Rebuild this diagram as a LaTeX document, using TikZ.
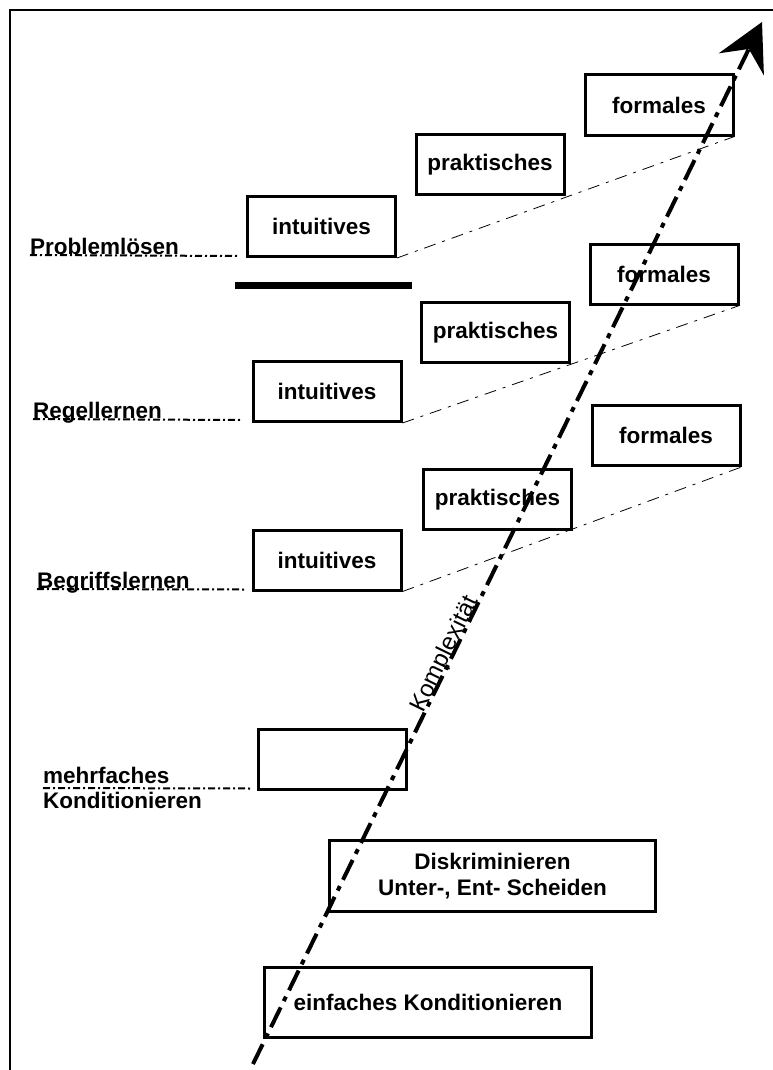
\documentclass[tikz,border=0pt]{standalone}
\usepackage{fontspec}
\setmainfont{Liberation Sans}
\usetikzlibrary{arrows.meta}
\begin{document}
\begin{tikzpicture}[x=1pt,y=-1pt,
  box/.style={draw, line width=3pt, inner sep=0pt, align=center,
    font=\fontsize{22.5}{26}\selectfont\bfseries},
  smallbox/.style={box, minimum width=148pt, minimum height=60pt},
  lbl/.style={inner sep=0pt, anchor=base west, font=\fontsize{22.5}{26}\selectfont\bfseries},
  lblline/.style={line width=2pt, dash pattern=on 7pt off 3pt on 2pt off 3pt},
  thinlink/.style={line width=0.8pt, dash pattern=on 12pt off 7pt on 3pt off 7pt},
  mainarrow/.style={line width=4pt, dash pattern=on 22pt off 7pt on 5pt off 7pt,
    -{Stealth[length=47pt,width=50pt,inset=17pt]}},
  frameline/.style={line width=1.5pt}
]
\useasboundingbox (0,0) rectangle (773,1070);
% frame
\coordinate (fa) at (10,1070);
\coordinate (fb) at (10,10);
\coordinate (fc) at (773,10);
\draw[frameline] (fa) -- (fb) -- (fc);

% boxes
\node[smallbox] (f1) at (659,105) {formales};
\node[smallbox] (p1) at (490,164.5) {praktisches};
\node[smallbox] (i1) at (321.5,226.5) {intuitives};
\node[smallbox] (f2) at (664,274) {formales};
\node[smallbox] (p2) at (495.5,332.5) {praktisches};
\node[smallbox] (i2) at (327,391.5) {intuitives};
\node[smallbox] (f3) at (666,435.5) {formales};
\node[smallbox] (p3) at (497.5,499.5) {praktisches};
\node[smallbox] (i3) at (327,560) {intuitives};
\node[smallbox] (e1) at (332,759) {};
\node[box, minimum width=326pt, minimum height=71pt] (d1) at (492.5,876)
  {Diskriminieren\\Unter-, Ent- Scheiden};
\node[box, minimum width=327pt, minimum height=70pt] (k1) at (428,1002.5)
  {einfaches Konditionieren};

% black bar
\fill (235,282) rectangle (412,289);

% thin links
\draw[thinlink] (i1.south east) -- (f1.south east);
\draw[thinlink] (i2.south east) -- (f2.south east);
\draw[thinlink] (i3.south east) -- (f3.south east);

% labels
\node[lbl] (lp) at (30,254) {Problemlösen};
\node[lbl] (lr) at (33,418) {Regellernen};
\node[lbl] (lb) at (37,588) {Begriffslernen};
\node[lbl] (lm) at (43,783) {mehrfaches};
\node[lbl] (lk) at (43,808) {Konditionieren};
\draw[lblline] ([yshift=-1pt]lp.base west) -- ([xshift=-9pt,yshift=2pt]i1.south west);
\draw[lblline] ([yshift=-1pt]lr.base west) -- ([xshift=-11pt,yshift=3pt]i2.south west);
\draw[lblline] ([yshift=-1pt]lb.base west) -- ([xshift=-7pt,yshift=2pt]i3.south west);
\draw[lblline] ([yshift=-5pt]lm.base west) -- ([xshift=-4pt,yshift=2pt]e1.south west);

% main arrow
\coordinate (as) at (253,1064);
\coordinate (ae) at (762,22);
\draw[mainarrow] (as) -- (ae)
  node[pos=0.39, sloped, anchor=base, inner sep=0pt, yshift=1pt,
       font=\fontsize{24}{28}\selectfont] {Komplexität};
\end{tikzpicture}
\end{document}
